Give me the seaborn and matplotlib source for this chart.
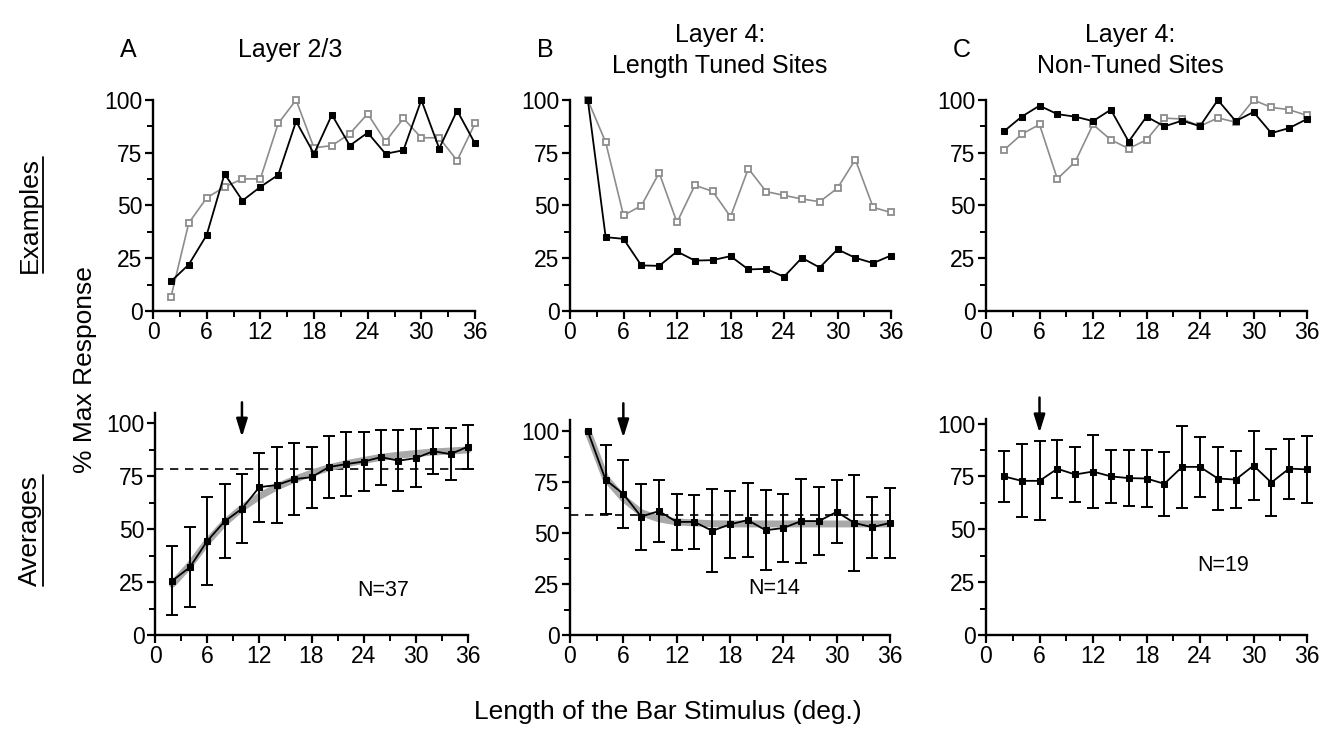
import numpy as np
import matplotlib
matplotlib.use("Agg")
import matplotlib.pyplot as plt
from matplotlib.ticker import MultipleLocator
from matplotlib.lines import Line2D
import seaborn as sns

# ---------------- data ----------------
lengths = [2, 4, 6, 8, 10, 12, 14, 16, 18, 20, 22, 24, 26, 28, 30, 32, 34, 36]

# Examples (top row)
a_ex_black = [14, 22, 36, 65, 52.3, 58.8, 64.5, 89.9, 74.5, 93, 78.4, 84.5, 74.5, 76.2, 100, 77, 95, 79.4]
a_ex_gray = [6.5, 41.7, 53.6, 58.8, 62.6, 62.6, 88.9, 100, 77.3, 78.4, 84, 93.5, 80.3, 91.3, 82.1, 82.1, 71.3, 88.9]
b_ex_black = [100, 35, 34.2, 21.6, 21.4, 28.2, 23.9, 24.1, 26, 19.7, 20, 16.2, 25.2, 20.6, 29.2, 25.2, 22.7, 26.3]
b_ex_gray = [100, 80, 45.3, 49.9, 65.5, 42, 59.6, 56.7, 44.7, 67.5, 56.6, 54.8, 53.1, 51.8, 58.2, 71.8, 49.1, 46.7]
c_ex_black = [85.1, 92.1, 97.3, 93.3, 92.1, 90, 95.4, 80.3, 92.1, 87.5, 90.2, 87.6, 100, 90, 94.3, 84.3, 86.7, 91]
c_ex_gray = [76.2, 83.8, 88.4, 62.6, 70.7, 88.4, 81.1, 77, 81.1, 91.4, 91, 87.6, 91.5, 89.5, 100, 96.5, 95.4, 92.7]

# Averages (bottom row)
a_avg = [25.7, 32, 44.4, 53.7, 59.7, 69.9, 70.9, 73.7, 74.6, 79.4, 80.8, 82, 84.1, 82.4, 83.6, 86.9, 85.5, 89.1]
a_err = [16.3, 18.9, 20.8, 17.5, 16.3, 16.3, 18, 16.9, 14.4, 14.7, 15.3, 14, 13, 14.5, 13.7, 10.8, 12.4, 10.4]
a_fit = [24, 33, 44, 53, 60, 65.5, 70, 73.5, 76.5, 79, 81, 82.5, 84, 85, 85.8, 86.5, 87, 87.5]
a_dash = 78.3
a_arrow = 10
a_n = "N=37"

b_avg = [100, 76.2, 69.2, 58.1, 60.8, 55.5, 55.5, 51.1, 54.3, 56.4, 51.4, 52.5, 55.9, 55.9, 60.4, 55, 52.9, 55]
b_err = [0, 17, 16.6, 16.2, 15.4, 13.9, 13.1, 20.4, 16.6, 18.1, 19.6, 16.7, 20.7, 16.5, 15.5, 23.5, 14.9, 17.2]
b_fit = [100, 77, 67, 60, 57, 55.5, 55, 54.6, 54.5, 54.5, 54.5, 54.5, 54.5, 54.5, 54.5, 54.5, 54.5, 54.5]
b_dash = 59.1
b_arrow = 6
b_n = "N=14"

c_avg = [75, 72.9, 72.9, 78.6, 75.9, 77.3, 75, 74.2, 74, 71.5, 79.5, 79.5, 74, 73.5, 80.1, 72.1, 78.7, 78.3]
c_err = [12, 17.3, 18.7, 13.8, 12.8, 17.2, 12.4, 13.2, 13.4, 15, 19.4, 14.3, 15, 13.3, 16.2, 16, 14.2, 15.8]
c_arrow = 6
c_n = "N=19"

panel_letters = ["A", "B", "C"]
panel_titles = [["Layer 2/3"], ["Layer 4:", "Length Tuned Sites"], ["Layer 4:", "Non-Tuned Sites"]]
x_ticks = [0, 6, 12, 18, 24, 30, 36]
y_ticks = [0, 25, 50, 75, 100]

# ---------------- style ----------------
sns.set_theme(style="ticks")
plt.rcParams["font.family"] = ["Liberation Sans", "DejaVu Sans"]
plt.rcParams["text.color"] = "black"
plt.rcParams["axes.labelcolor"] = "black"
plt.rcParams["xtick.color"] = "black"
plt.rcParams["ytick.color"] = "black"

W, H = 1337, 744
fig = plt.figure(figsize=(W / 100, H / 100), dpi=100)


def add_ax(x0, x1, ytop, ybot):
    return fig.add_axes([x0 / W, 1 - ybot / H, (x1 - x0) / W, (ybot - ytop) / H])


def style_ax(ax, ytop):
    ax.set_xlim(0, 36)
    ax.set_ylim(0, ytop)
    ax.set_xticks(x_ticks)
    ax.set_yticks(y_ticks)
    ax.xaxis.set_minor_locator(MultipleLocator(3))
    ax.yaxis.set_minor_locator(MultipleLocator(12.5))
    for s in ["top", "right"]:
        ax.spines[s].set_visible(False)
    for s in ["left", "bottom"]:
        ax.spines[s].set_linewidth(1.7)
        ax.spines[s].set_color("black")
    ax.tick_params(which="major", direction="out", length=6, width=1.6, labelsize=16.5,
                   colors="black", pad=1.5)
    ax.tick_params(which="minor", direction="out", length=4, width=1.4, colors="black")
    ax.set_xlabel("")
    ax.set_ylabel("")
    ax.patch.set_alpha(0)


GRAY = "#8c8c8c"
FITGRAY = "#a8a8a8"

top_px = [(153, 475), (570, 891), (986, 1307)]
bot_px = [(155, 468, 412.9, 105), (570, 890, 420.0, 105.5), (986, 1307, 419.3, 102)]

examples = [(a_ex_black, a_ex_gray), (b_ex_black, b_ex_gray), (c_ex_black, c_ex_gray)]
for (x0, x1), (blk, gry) in zip(top_px, examples):
    ax = add_ax(x0, x1, 100, 311)
    sns.lineplot(x=lengths, y=gry, ax=ax, color=GRAY, lw=1.2, marker="s", markersize=5,
                 markerfacecolor="white", markeredgecolor=GRAY, markeredgewidth=1.3,
                 clip_on=False, zorder=3)
    sns.lineplot(x=lengths, y=blk, ax=ax, color="black", lw=1.3, marker="s", markersize=4.5,
                 markerfacecolor="black", markeredgecolor="black", clip_on=False, zorder=4)
    style_ax(ax, 100)

# arrow (tail, tip) heights in each averages panel
arrow_y = [(110, 93.6), (113.7, 96.8), (112.3, 95.6)]

averages = [
    (a_avg, a_err, a_fit, a_dash, a_arrow, a_n, (26.2, 21)),
    (b_avg, b_err, b_fit, b_dash, b_arrow, b_n, (23, 23)),
    (c_avg, c_err, None, None, c_arrow, c_n, (26.6, 33)),
]
for (x0, x1, ytp, ymax), (avg, err, fit, dash, arr, ntxt, npos), (ay0, ay1) in zip(bot_px, averages, arrow_y):
    ax = add_ax(x0, x1, ytp, 635)
    if dash is not None:
        ax.axhline(dash, color="black", lw=1.2, ls=(0, (5, 4)), zorder=1)
    if fit is not None:
        sns.lineplot(x=lengths, y=fit, ax=ax, color=FITGRAY, lw=5, zorder=2,
                     solid_capstyle="round", clip_on=False)
    xs = [x for x, e in zip(lengths, err) if e > 0]
    ys = [y for y, e in zip(avg, err) if e > 0]
    es = [e for e in err if e > 0]
    ax.errorbar(xs, ys, yerr=es, fmt="none", ecolor="black", elinewidth=1.4, capsize=4.5,
                capthick=1.4, zorder=3, clip_on=False)
    sns.lineplot(x=lengths, y=avg, ax=ax, color="black", lw=1.3, marker="s", markersize=4.5,
                 markerfacecolor="black", markeredgecolor="black", clip_on=False, zorder=4)
    ax.annotate("", xy=(arr, ay1), xytext=(arr, ay0),
                arrowprops=dict(arrowstyle="-|>,head_length=0.9,head_width=0.28", color="black",
                                lw=1.8, shrinkA=0, shrinkB=0),
                annotation_clip=False)
    ax.text(npos[0], npos[1], ntxt, fontsize=15.5, ha="center", va="center", color="black")
    style_ax(ax, ymax)

# titles
title_centers = [(290, 128), (720, 545), (1130, 962)]
for (cx, lx), letter, lines in zip(title_centers, panel_letters, panel_titles):
    fig.text(lx / W, 1 - 50 / H, letter, fontsize=18, ha="center", va="center")
    if len(lines) == 1:
        fig.text(cx / W, 1 - 50 / H, lines[0], fontsize=18, ha="center", va="center")
    else:
        fig.text(cx / W, 1 - 35 / H, lines[0], fontsize=18, ha="center", va="center")
        fig.text(cx / W, 1 - 66 / H, lines[1], fontsize=18, ha="center", va="center")

fig.text(85 / W, 1 - 370 / H, "% Max Response", fontsize=19, rotation=90, ha="center", va="center")
fig.text(668 / W, 1 - 712 / H, "Length of the Bar Stimulus (deg.)", fontsize=19, ha="center", va="center")

# underlined row labels
fig.canvas.draw()
renderer = fig.canvas.get_renderer()
for label, cy in [("Examples", 215), ("Averages", 530)]:
    t = fig.text(30 / W, 1 - cy / H, label, fontsize=19, rotation=90, ha="center", va="center")
    bb = t.get_window_extent(renderer=renderer)
    xline = bb.x1 + 1
    fig.add_artist(Line2D([xline / W, xline / W], [bb.y0 / H, bb.y1 / H], color="black", lw=1.3,
                          transform=fig.transFigure))

fig.savefig("out.png", dpi=100)
